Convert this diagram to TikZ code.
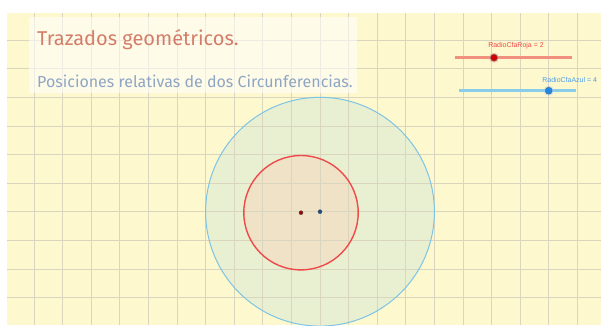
\documentclass[tikz,border=0pt]{standalone}
\usepackage{fontspec}
\setmainfont{Fira Sans}
\newfontfamily\arialfont{Liberation Sans}
\definecolor{paper}{HTML}{FDF8CE}
\definecolor{gridc}{HTML}{DAD5BF}
\definecolor{titlec}{HTML}{D47E6A}
\definecolor{subc}{HTML}{8EA6C4}
\definecolor{redc}{HTML}{EE4A4A}
\definecolor{bluec}{HTML}{7CC4E6}
\definecolor{bluefill}{HTML}{DDEBD6}
\definecolor{redfill}{HTML}{F3D9C0}
\definecolor{slred}{HTML}{F29080}
\definecolor{slblue}{HTML}{8ACDEA}
\definecolor{ptred}{HTML}{D00000}
\definecolor{ptblue}{HTML}{1E88E5}
\tikzset{
  gridline/.style={draw=gridc, line width=0.8pt},
  slidertrack/.style={line width=3.2pt},
  sliderlabel/.style={font=\arialfont\fontsize{7}{8}\selectfont, inner sep=0pt},
  centerpt/.style={circle, inner sep=0pt, minimum size=4pt, draw=black!70, line width=0.4pt}
}
\begin{document}
\begin{tikzpicture}[x=1pt,y=-1pt]
\useasboundingbox (0,0) rectangle (601,325);
\fill[white] (0,0) rectangle (601,325);
\fill[paper] (7,13) rectangle (601,325);
\begin{scope}
\clip (7,13) rectangle (601,325);
% circles
\coordinate (cb) at (320,211.7);
\coordinate (cr) at (301,212.7);
\fill[bluefill, fill opacity=0.6] (cb) circle (114.4);
\fill[redfill, fill opacity=0.6] (cr) circle (57.2);
% grid
\foreach \i in {-10,...,9} {\draw[gridline] ({320+28.6*\i},13) -- ({320+28.6*\i},325);}
\foreach \j in {-6,...,3} {\draw[gridline] (7,{211.7+28.6*\j}) -- (601,{211.7+28.6*\j});}
\draw[bluec, line width=1pt] (cb) circle (114.4);
\draw[redc, line width=1.4pt] (cr) circle (57.2);
\end{scope}
\node[centerpt, fill=ptred!80!black] (pr) at (cr) {};
\node[centerpt, fill=ptblue!60!black] (pb) at (cb) {};
% title box
\fill[white, opacity=0.55] (29,17) rectangle (357,93);
\node[anchor=base west, inner sep=0pt, text=titlec, font=\fontsize{20}{23}\selectfont] (title) at (37,45.7) {Trazados geométricos.};
\node[anchor=base west, inner sep=0pt, text=subc, font=\fontsize{16}{19}\selectfont] (subtitle) at (37,87.3) {Posiciones relativas de dos Circunferencias.};
% sliders
\coordinate (r1) at (455,57.7); \coordinate (r2) at (572,57.7);
\draw[slidertrack, slred] (r1) -- (r2);
\node[circle, inner sep=0pt, minimum size=10pt, fill=ptred!40, fill opacity=0.6] (rhalo) at (494,57.7) {};
\node[circle, inner sep=0pt, minimum size=7pt, fill=ptred, draw=black!60, line width=0.4pt] (rpt) at (494,57.7) {};
\node[sliderlabel, text=redc] (rlabel) at (516,46) {RadioCfaRoja = 2};
\coordinate (b1) at (459,90.7); \coordinate (b2) at (576,90.7);
\draw[slidertrack, slblue] (b1) -- (b2);
\node[circle, inner sep=0pt, minimum size=10pt, fill=ptblue!40, fill opacity=0.6] (bhalo) at (548.7,90.7) {};
\node[circle, inner sep=0pt, minimum size=7pt, fill=ptblue, draw=black!60, line width=0.4pt] (bpt) at (548.7,90.7) {};
\node[sliderlabel, text=ptblue!80!white] (blabel) at (569.7,80) {RadioCfaAzul = 4};
\end{tikzpicture}
\end{document}
